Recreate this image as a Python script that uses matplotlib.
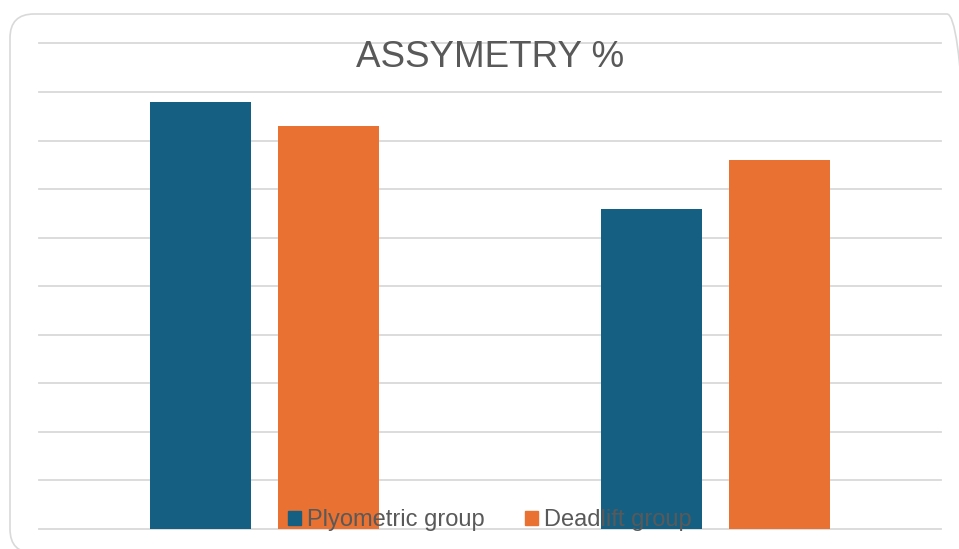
import matplotlib.pyplot as plt
from matplotlib.patches import FancyBboxPatch, Patch
from matplotlib.transforms import IdentityTransform
import numpy as np

plt.rcParams['font.family'] = ['Liberation Sans', 'DejaVu Sans']

categories = ['Group A', 'Group B']
series = ['Plyometric group', 'Deadlift group']
plyometric = [8.8, 6.6]
deadlift = [8.3, 7.6]
colors = ['#156082', '#E97132']
text_color = '#595959'
grid_color = '#d9d9d9'

fig = plt.figure(figsize=(9.59, 5.49), dpi=100)
ax = fig.add_axes([39.3 / 959, 20 / 549, 901.7 / 959, 485.5 / 549])

x = np.arange(len(categories))
w = 0.224
off = 0.142
ax.bar(x - off, plyometric, w, color=colors[0], zorder=2)
ax.bar(x + off, deadlift, w, color=colors[1], zorder=2)

ax.set_xlim(-0.5, len(categories) - 0.5)
ax.set_ylim(0, 10)
ax.set_yticks(np.arange(0, 11, 1))
ax.set_xticks([])
ax.tick_params(left=False, labelleft=False)
ax.grid(axis='y', color=grid_color, linewidth=1.3)
for gl in ax.get_ygridlines():
    gl.set_clip_on(False)
ax.set_axisbelow(True)
for s in ax.spines.values():
    s.set_visible(False)

fig.text(490 / 959, 1 - 67.3 / 549, 'ASSYMETRY %', ha='center', va='baseline',
         fontsize=26.5, color=text_color)

handles = [Patch(color=c) for c in colors]
leg = ax.legend(handles, series, loc='center', ncol=2, frameon=False,
                bbox_to_anchor=(490 / 959, 1 - 520 / 549),
                bbox_transform=fig.transFigure,
                fontsize=17, handlelength=0.55, handleheight=0.55,
                handletextpad=0.25, columnspacing=1.7, labelcolor=text_color)
leg.set_zorder(5)

# rounded chart frame
frame = FancyBboxPatch((10, -4), 961, 549 - 14 + 4,
                       boxstyle='round,pad=0,rounding_size=24',
                       transform=IdentityTransform(), facecolor='none',
                       edgecolor=grid_color, linewidth=1.2)
fig.add_artist(frame)

fig.savefig('out.png', dpi=100)
